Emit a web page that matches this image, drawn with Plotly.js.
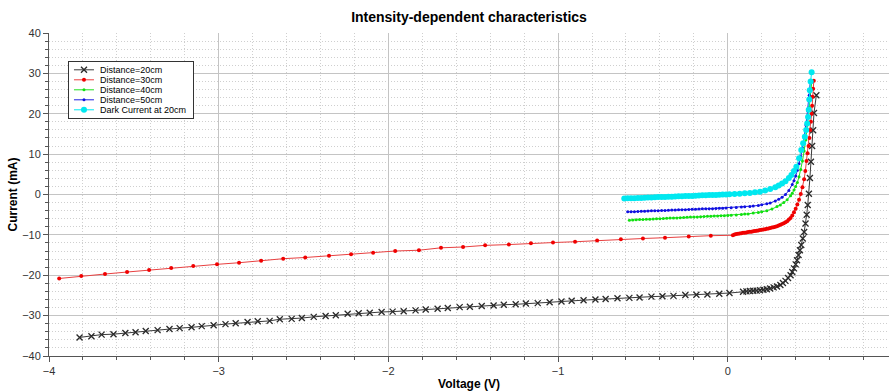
<!DOCTYPE html>
<html>
<head>
<meta charset="utf-8">
<script src="https://cdn.plot.ly/plotly-3.0.1.min.js"></script>
<style>html,body{margin:0;padding:0;background:#fff;}#chart{width:889px;height:391px;}</style>
</head>
<body>
<div id="chart"></div>
<script>
// ---- data ----
const seriesNames = ["Distance=20cm", "Distance=30cm", "Distance=40cm", "Distance=50cm", "Dark Current at 20cm"];

const blackV = [-3.82,-3.75,-3.69,-3.62,-3.55,-3.49,-3.43,-3.36,-3.29,-3.23,-3.16,-3.10,-3.03,-2.96,-2.90,-2.83,-2.77,-2.70,-2.64,-2.57,-2.51,-2.44,-2.37,-2.31,
  -2.24,-2.175,-2.11,-2.04,-1.975,-1.91,-1.84,-1.78,-1.71,-1.65,-1.58,-1.52,-1.45,-1.38,-1.32,-1.25,-1.19,
  -1.12,-1.05,-0.98,-0.92,-0.85,-0.78,-0.72,-0.65,-0.58,-0.52,-0.45,-0.385,-0.32,-0.25,-0.185,-0.12,-0.05,0.01,
  0.09,0.11,0.13,0.15,0.17,0.19,0.21,0.23,0.25,0.27,0.29,0.31,0.325,0.34,0.355,0.37,0.38,0.39,0.40,0.408,0.417,0.425,0.433,0.442,0.45,0.458,0.465,0.471,0.478,0.484,0.490,0.497,0.503,0.508,0.522];
const blackI = [-35.4,-35.1,-34.7,-34.6,-34.3,-34.1,-33.8,-33.6,-33.3,-33.1,-32.9,-32.6,-32.4,-32.1,-31.9,-31.6,-31.4,-31.3,-30.9,-30.8,-30.6,-30.3,-30.1,-29.9,
  -29.55,-29.4,-29.3,-29.1,-29.0,-28.9,-28.7,-28.5,-28.3,-28.1,-27.9,-27.8,-27.6,-27.5,-27.3,-27.2,-27.0,
  -26.9,-26.7,-26.5,-26.3,-26.2,-26.0,-25.9,-25.7,-25.6,-25.5,-25.3,-25.2,-25.1,-24.9,-24.85,-24.75,-24.6,-24.4,
  -24.1,-24.0,-23.9,-23.85,-23.8,-23.7,-23.6,-23.45,-23.3,-23.0,-22.8,-22.4,-21.9,-21.4,-20.7,-20.0,-19.2,-18.3,-17.3,-16.3,-15.0,-13.8,-12.5,-10.9,-9.3,-7.2,-5.0,-2.6,0.2,4.1,8.1,12.0,15.9,20.2,24.6];

const redV = [-3.94,-3.81,-3.67,-3.54,-3.41,-3.28,-3.15,-3.01,-2.88,-2.75,-2.62,-2.49,-2.35,-2.22,-2.09,-1.96,-1.82,-1.69,-1.56,-1.43,-1.29,-1.16,-1.03,-0.90,-0.77,-0.63,-0.50,-0.37,-0.23,-0.10,
  0.03,0.04,0.05,0.06,0.07,0.08,0.09,0.10,0.11,0.12,0.13,0.14,0.15,0.16,0.17,0.18,0.19,0.20,0.21,0.22,0.23,0.24,0.25,0.26,0.27,0.28,0.29,0.30,0.31,0.32,0.33,0.34,0.35,0.36,0.37,0.38,0.39,0.40,0.41,0.42,0.43,0.44,0.45,0.457,0.464,0.47,0.476,0.481,0.486,0.49,0.494,0.497,0.50,0.503,0.507];
const redI = [-20.8,-20.2,-19.7,-19.2,-18.7,-18.2,-17.7,-17.3,-16.9,-16.4,-15.9,-15.6,-15.2,-14.8,-14.45,-14.0,-13.8,-13.2,-13.0,-12.6,-12.4,-12.1,-11.9,-11.7,-11.4,-11.1,-10.9,-10.7,-10.4,-10.2,
  -10.1,-9.9,-9.8,-9.75,-9.65,-9.6,-9.5,-9.45,-9.4,-9.3,-9.25,-9.2,-9.1,-9.05,-9.0,-8.9,-8.8,-8.75,-8.65,-8.6,-8.5,-8.4,-8.3,-8.2,-8.1,-8.0,-7.85,-7.7,-7.5,-7.3,-7.1,-6.9,-6.6,-6.2,-5.8,-5.2,-4.4,-3.5,-2.5,-1.3,0.1,1.8,3.8,5.8,8.3,10.2,12.0,14.0,16.0,18.0,20.0,22.0,24.2,26.2,28.2];

const greenV = [-0.58,-0.56,-0.54,-0.52,-0.50,-0.48,-0.46,-0.44,-0.42,-0.40,-0.38,-0.36,-0.34,-0.32,-0.30,-0.28,-0.26,-0.24,-0.22,-0.20,-0.18,-0.16,-0.14,-0.12,-0.10,-0.08,-0.06,-0.04,-0.02,
  0.00,0.02,0.05,0.08,0.10,0.12,0.15,0.18,0.20,0.23,0.26,0.29,0.31,0.33,0.35,0.37,0.38,0.39,0.40,0.41,0.42,0.43,0.44,0.45,0.46,0.47,0.48,0.49,0.495];
const greenI = [-6.35,-6.3,-6.25,-6.2,-6.2,-6.15,-6.1,-6.05,-6.0,-6.0,-5.95,-5.9,-5.85,-5.8,-5.8,-5.75,-5.7,-5.65,-5.6,-5.6,-5.55,-5.5,-5.45,-5.4,-5.4,-5.35,-5.3,-5.25,-5.25,
  -5.2,-5.15,-5.05,-4.95,-4.85,-4.8,-4.6,-4.45,-4.3,-4.0,-3.6,-3.0,-2.6,-2.0,-1.3,-0.3,0.3,1.1,2.0,3.0,4.4,6.2,8.3,10.8,13.5,17.3,21.6,26.0,28.0];

const blueV = [-0.59,-0.57,-0.55,-0.53,-0.51,-0.49,-0.47,-0.45,-0.43,-0.41,-0.39,-0.37,-0.35,-0.33,-0.31,-0.29,-0.27,-0.25,-0.23,-0.21,-0.19,-0.17,-0.15,-0.13,-0.11,-0.09,-0.07,-0.05,-0.03,-0.01,
  0.02,0.05,0.08,0.10,0.13,0.15,0.18,0.20,0.23,0.25,0.28,0.30,0.32,0.34,0.36,0.38,0.39,0.40,0.41,0.42,0.43,0.44,0.45,0.46,0.47,0.48,0.487];
const blueI = [-4.3,-4.25,-4.25,-4.2,-4.15,-4.15,-4.1,-4.05,-4.05,-4.0,-3.95,-3.95,-3.9,-3.85,-3.85,-3.8,-3.75,-3.75,-3.7,-3.65,-3.65,-3.6,-3.55,-3.55,-3.5,-3.5,-3.45,-3.4,-3.4,-3.35,
  -3.3,-3.2,-3.1,-3.05,-2.95,-2.85,-2.7,-2.55,-2.3,-2.1,-1.6,-1.2,-0.7,0.0,1.0,2.5,3.4,4.6,6.0,7.6,9.4,11.6,14.1,17.2,20.8,24.6,28.2];

const cyanV = [-0.61,-0.59,-0.57,-0.55,-0.53,-0.51,-0.49,-0.47,-0.45,-0.43,-0.41,-0.39,-0.37,-0.35,-0.33,-0.31,-0.29,-0.27,-0.25,-0.23,-0.21,-0.19,-0.17,-0.15,-0.13,-0.11,-0.09,-0.07,-0.05,-0.03,-0.01,0.01,
  0.04,0.07,0.10,0.13,0.16,0.19,0.22,0.25,0.28,0.30,0.32,0.34,0.36,0.375,0.39,0.404,0.42,0.433,0.444,0.454,0.462,0.468,0.473,0.477,0.48,0.483,0.488,0.494];
const cyanI = [-1.0,-0.95,-0.95,-0.9,-0.85,-0.85,-0.8,-0.75,-0.75,-0.7,-0.65,-0.65,-0.6,-0.55,-0.55,-0.5,-0.45,-0.45,-0.4,-0.35,-0.35,-0.3,-0.25,-0.2,-0.2,-0.15,-0.1,-0.1,-0.05,0.0,0.0,0.05,
  0.1,0.2,0.3,0.4,0.55,0.7,1.0,1.35,1.8,2.2,2.7,3.3,4.1,4.8,5.8,6.9,9.0,11.0,12.7,14.3,16.0,17.6,19.2,21.0,23.5,25.8,28.0,30.3];

// ---- chart ----
const FONT = "Liberation Sans, Arial, sans-serif";
const traces = [
  {x: blackV, y: blackI, name: seriesNames[0], mode: "lines+markers",
   line: {color: "#3a3a3a", width: 1},
   marker: {symbol: "x-thin-open", size: 6, color: "#2a2a2a", line: {color: "#2a2a2a", width: 1.3}}},
  {x: redV, y: redI, name: seriesNames[1], mode: "lines+markers",
   line: {color: "#e84040", width: 1},
   marker: {symbol: "circle", size: 4, color: "#f00000"}},
  {x: greenV, y: greenI, name: seriesNames[2], mode: "lines+markers",
   line: {color: "#20e020", width: 1},
   marker: {symbol: "circle", size: 3, color: "#10e010"}},
  {x: blueV, y: blueI, name: seriesNames[3], mode: "lines+markers",
   line: {color: "#2020e0", width: 1},
   marker: {symbol: "circle", size: 3, color: "#1010e0"}},
  {x: cyanV, y: cyanI, name: seriesNames[4], mode: "lines+markers",
   line: {color: "#00e8f0", width: 1},
   marker: {symbol: "circle", size: 6, color: "#00e8f0"}}
];

const axisCommon = {
  showline: true, linecolor: "#555555", linewidth: 1, mirror: false,
  showgrid: true, gridcolor: "#c4c4c4", gridwidth: 1,
  zeroline: false,
  ticks: "outside", ticklen: 5, tickwidth: 1, tickcolor: "#555555",
  tickfont: {family: FONT, size: 11, color: "#333333"},
};

const layout = {
  width: 889, height: 391,
  margin: {l: 49, r: 0, t: 33, b: 35},
  paper_bgcolor: "#ffffff", plot_bgcolor: "#ffffff",
  font: {family: FONT, color: "#000"},
  title: {text: "<b>Intensity-dependent characteristics</b>", x: 0.5, xref: "paper", xanchor: "center",
          y: 1 - 17/391, yanchor: "middle", font: {family: FONT, size: 14, color: "#000"}},
  showlegend: true,
  legend: {x: 0.0226, y: 0.913, xanchor: "left", yanchor: "top",
           bgcolor: "#ffffff", bordercolor: "#333333", borderwidth: 1,
           font: {family: FONT, size: 9, color: "#000"}, tracegroupgap: 0, itemwidth: 30},
  xaxis: Object.assign({}, axisCommon, {
    range: [-4, 0.95], dtick: 1, tick0: 0,
    minor: {dtick: 0.2, showgrid: true, gridcolor: "#cfcfcf", griddash: "1px,2px", ticks: "outside", ticklen: 3, tickcolor: "#555555"},
    title: {text: "<b>Voltage (V)</b>", standoff: 3, font: {family: FONT, size: 12, color: "#000"}}
  }),
  yaxis: Object.assign({}, axisCommon, {
    range: [-40, 40], dtick: 10, tick0: 0,
    minor: {dtick: 2, showgrid: true, gridcolor: "#cfcfcf", griddash: "1px,2px", ticks: "outside", ticklen: 3, tickcolor: "#555555"},
    title: {text: "<b>Current (mA)</b>", standoff: 1, font: {family: FONT, size: 12, color: "#000"}}
  }),
  hovermode: false
};

// compact the legend rows to match the reference's tight legend box
function compactLegend(gd) {
  const leg = gd.querySelector("g.legend");
  if (!leg) return;
  const rows = leg.querySelectorAll("g.traces");
  const rowGap = 10, firstRow = 8.7;
  rows.forEach(function (row, i) {
    row.setAttribute("transform", "translate(1," + (firstRow + rowGap * i) + ")");
    row.querySelectorAll("path.js-line").forEach(function (p) { p.setAttribute("d", "M5,0h20"); });
    row.querySelectorAll("g.legendpoints path.scatterpts").forEach(function (p) { p.setAttribute("transform", "translate(15,0)"); });
    row.querySelectorAll("text.legendtext").forEach(function (t) { t.setAttribute("x", "31"); });
    row.querySelectorAll("rect.legendtoggle").forEach(function (r) { r.setAttribute("height", rowGap); });
  });
  const h = firstRow * 2 + rowGap * (rows.length - 1) - 0.4;
  let maxW = 0;
  leg.querySelectorAll("text.legendtext").forEach(function (t) {
    try { maxW = Math.max(maxW, t.getComputedTextLength()); } catch (e) {}
  });
  const w = Math.round(31 + maxW + 8);
  leg.querySelectorAll("rect.bg").forEach(function (r) { r.setAttribute("height", h); r.setAttribute("width", w); });
  const clip = gd.querySelector("clipPath[id*='legend'] rect");
  if (clip) { clip.setAttribute("height", h); clip.setAttribute("width", w); }
}

Plotly.newPlot("chart", traces, layout, {displayModeBar: false, staticPlot: true}).then(function (gd) {
  compactLegend(gd);
});
</script>
</body>
</html>
